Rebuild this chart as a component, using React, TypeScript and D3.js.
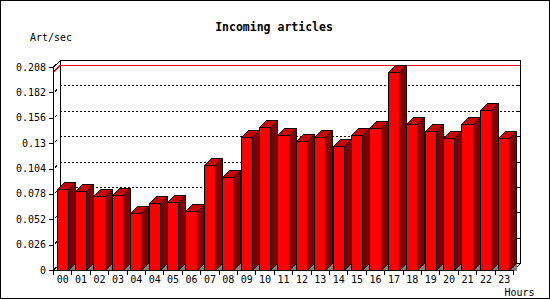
import React from "react";
import * as d3 from "d3";

const hourLabels = ["00","01","02","03","04","04","05","06","07","08","09","10","11","12","13","14","15","16","17","18","19","20","21","22","23"];
const artPerSec = [0.083,0.081,0.076,0.077,0.058,0.069,0.070,0.060,0.108,0.095,0.136,0.147,0.138,0.132,0.136,0.127,0.138,0.146,0.203,0.150,0.142,0.135,0.150,0.164,0.135];
const yTicks = [0,0.026,0.052,0.078,0.104,0.13,0.156,0.182,0.208];
const yTickLabels = ["0","0.026","0.052","0.078","0.104","0.13","0.156","0.182","0.208"];

const W = 550, H = 300;
const XL = 53, XR = 513, YB = 270, YT = 67, D = 7;
const FONT = "'DejaVu Sans Mono', monospace";

export default function App() {
  const x = d3.scaleBand<number>().domain(d3.range(artPerSec.length)).range([XL, XR]).paddingInner(0).paddingOuter(0);
  const y = d3.scaleLinear().domain([0, 0.208]).range([YB, YT]);
  const bw = x.bandwidth() * 0.6;
  const maxV = d3.max(artPerSec) as number;
  const yMax = y(maxV);
  const pts = (a: number[][]) => a.map((p) => p.join(",")).join(" ");

  return (
    <svg width={W} height={H} style={{ position: "absolute", left: 0, top: 0, background: "#fff" }}>
      <rect x={0.5} y={0.5} width={549} height={298} fill="#fff" stroke="#000" />
      <g shapeRendering="crispEdges">
        {/* back wall */}
        <rect x={XL + D + 0.5} y={YT - D + 0.5} width={XR - XL} height={YB - YT} fill="#fff" stroke="#000" />
        {/* grid lines on back wall */}
        {yTicks.slice(1, -1).map((t, i) => (
          <line key={"g" + i} x1={XL + D} x2={XR + D} y1={y(t) - D + 0.5} y2={y(t) - D + 0.5} stroke="#000" strokeDasharray="2,2" />
        ))}
        {/* right wall ticks */}
        {yTicks.slice(1, -1).map((t, i) => (
          <line key={"rt" + i} x1={XR + D - 3} x2={XR + D} y1={y(t) - D + 0.5} y2={y(t) - D + 0.5} stroke="#000" />
        ))}
        {/* inner side-wall tick marks */}
        {yTicks.slice(1, -1).map((t, i) => (
          <line key={"it" + i} x1={XL + 2} y1={y(t) - 1} x2={XL + 4} y2={y(t) - 3} stroke="#000" />
        ))}
        {/* max line */}
        <line x1={XL + D} x2={XR + D} y1={yMax - D + 0.5} y2={yMax - D + 0.5} stroke="#ff0000" />
        <line x1={XL + 0.5} y1={yMax} x2={XL + D} y2={yMax - D + 0.5} stroke="#ff0000" />
        {/* left side wall edges */}
        <line x1={XL + 0.5} y1={YT} x2={XL + D + 0.5} y2={YT - D + 0.5} stroke="#000" />
        <line x1={XL + 0.5} y1={YB} x2={XL + D + 0.5} y2={YB - D + 0.5} stroke="#000" />
        <line x1={XR} y1={YB + 0.5} x2={XR + D + 0.5} y2={YB - D + 0.5} stroke="#000" />
        {/* bars */}
        {artPerSec.map((v, i) => {
          const cx = (x(i) as number) + x.bandwidth() / 2;
          const x1 = Math.round(cx - bw / 2) + 0.5;
          const x2 = Math.round(cx + bw / 2) + 0.5;
          const yv = Math.round(y(v)) + 0.5;
          const yb = YB + 0.5;
          return (
            <g key={"b" + i}>
              <polygon points={pts([[x2, yb], [x2 + D, yb - D], [x2 + D, yb]])} fill="#808080" stroke="none" />
              <polygon points={pts([[x2, yv], [x2 + D, yv - D], [x2 + D, yb - D], [x2, yb]])} fill="#800000" stroke="#000" />
              <polygon points={pts([[x1, yv], [x1 + D, yv - D], [x2 + D, yv - D], [x2, yv]])} fill="#c80000" stroke="#000" />
              <rect x={x1} y={yv} width={x2 - x1} height={yb - yv} fill="#ff0000" stroke="#000" />
            </g>
          );
        })}
        {/* front axes */}
        <line x1={XL + 0.5} x2={XL + 0.5} y1={YT} y2={YB + 1} stroke="#000" />
        <line x1={XL} x2={XR} y1={YB + 0.5} y2={YB + 0.5} stroke="#000" />
        {yTicks.map((t, i) => (
          <line key={"yt" + i} x1={XL - 4} x2={XL} y1={Math.round(y(t)) + 0.5} y2={Math.round(y(t)) + 0.5} stroke="#000" />
        ))}
        {d3.range(artPerSec.length + 1).map((i) => {
          const xx = Math.round(XL + i * x.bandwidth()) + 0.5;
          return <line key={"xt" + i} x1={xx} x2={xx} y1={YB} y2={YB + 5} stroke="#000" />;
        })}
      </g>
      {/* labels */}
      <g fontFamily={FONT} fontSize={10} fill="#000">
        {yTicks.map((t, i) => (
          <text key={"yl" + i} x={46} y={y(t) + 3.5} textAnchor="end">{yTickLabels[i]}</text>
        ))}
        {hourLabels.map((l, i) => (
          <text key={"xl" + i} x={(x(i) as number) + x.bandwidth() / 2 + 0.5} y={283} textAnchor="middle">{l}</text>
        ))}
        <text x={30} y={40.5}>Art/sec</text>
        <text x={504.5} y={296}>Hours</text>
      </g>
      <text x={274} y={31} textAnchor="middle" fontFamily={FONT} fontSize={11.5} fontWeight="bold">Incoming articles</text>
    </svg>
  );
}
